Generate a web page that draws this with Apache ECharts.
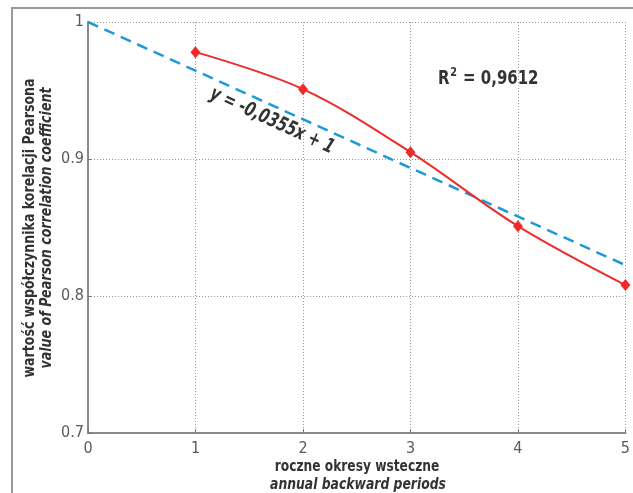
<!DOCTYPE html>
<html><head><meta charset="utf-8">
<script src="https://cdn.jsdelivr.net/npm/echarts@6/dist/echarts.min.js"></script>
<style>html,body{margin:0;padding:0;background:#fff}#c{width:633px;height:493px}</style>
</head><body><div id="c"></div>
<script>
const periods = [1, 2, 3, 4, 5];
const pearson = [0.978, 0.951, 0.905, 0.851, 0.808];
const trendX = [0, 5];
const trendY = [1, 0.8225];
const xTicks = ['0', '1', '2', '3', '4', '5'];
const yTicks = ['0.7', '0.8', '0.9', '1'];
const equationText = 'y = -0,0355x + 1';
const r2Text = '0,9612';

const FONT = '"DejaVu Sans Condensed", "Liberation Sans Narrow", "Roboto", sans-serif';
const chart = echarts.init(document.getElementById('c'), null, {renderer: 'canvas'});
chart.setOption({
  animation: false,
  backgroundColor: '#fff',
  grid: {left: 88, right: 6, top: 22, bottom: 60, containLabel: false},
  xAxis: {
    type: 'value', min: 0, max: 5, interval: 1,
    axisLine: {show: true, onZero: false, lineStyle: {color: '#8a8a8a', width: 2}},
    axisTick: {show: true, inside: true, length: 4, lineStyle: {color: '#777'}},
    axisLabel: {margin: 8, color: '#5a5a5a', fontSize: 16, fontFamily: FONT,
      formatter: v => xTicks[Math.round(v)]},
    splitLine: {show: true, lineStyle: {color: '#999', type: [1, 2], width: 1}}
  },
  yAxis: {
    type: 'value', min: 0.7, max: 1, interval: 0.1,
    axisLine: {show: true, onZero: false, lineStyle: {color: '#8a8a8a', width: 2}},
    axisTick: {show: true, inside: true, length: 4, lineStyle: {color: '#777'}},
    axisLabel: {margin: 4, color: '#5a5a5a', fontSize: 16, fontFamily: FONT,
      formatter: v => yTicks[Math.round((v - 0.7) * 10)]},
    splitLine: {show: true, lineStyle: {color: '#999', type: [1, 2], width: 1}}
  },
  series: [
    {
      type: 'line', data: trendX.map((x, i) => [x, trendY[i]]),
      symbol: 'none', z: 2,
      lineStyle: {color: '#1b9ad8', width: 2.5, type: [11, 7]}
    },
    {
      type: 'line', data: periods.map((x, i) => [x, pearson[i]]),
      smooth: 0.35, symbol: 'diamond', symbolSize: [10, 12], z: 3,
      lineStyle: {color: '#ee2b2b', width: 2},
      itemStyle: {color: '#ee2b2b'}
    }
  ],
  graphic: [
    {type: 'rect', shape: {x: 12, y: 8, width: 700, height: 600}, z: -10,
     style: {fill: null, stroke: '#9a9a9a', lineWidth: 2}},
    {type: 'text', x: 30, y: 228, rotation: Math.PI / 2, scaleX: 0.875,
     style: {text: 'wartość współczynnika korelacji Pearsona', fill: '#333', font: 'bold 16px ' + FONT,
       align: 'center', verticalAlign: 'middle'}},
    {type: 'text', x: 47, y: 228, rotation: Math.PI / 2, scaleX: 0.88,
     style: {text: 'value of Pearson correlation coefficient', fill: '#333', font: 'italic bold 16px ' + FONT,
       align: 'center', verticalAlign: 'middle'}},
    {type: 'text', x: 357, y: 467, scaleX: 0.85,
     style: {text: 'roczne okresy wsteczne', fill: '#333', font: 'bold 16px ' + FONT,
       align: 'center', verticalAlign: 'middle'}},
    {type: 'text', x: 358, y: 485, scaleX: 0.86,
     style: {text: 'annual backward periods', fill: '#333', font: 'italic bold 16px ' + FONT,
       align: 'center', verticalAlign: 'middle'}},
    {type: 'text', x: 438, y: 79, scaleX: 0.83,
     style: {text: '{r|R}{s|2}{r| = ' + r2Text + '}', fill: '#333', verticalAlign: 'middle',
       rich: {r: {font: 'bold 20px ' + FONT, fill: '#333'},
              s: {font: 'bold 13px ' + FONT, fill: '#333', verticalAlign: 'top', padding: [0, 1, 12, 1]}}}},
    {type: 'text', x: 272, y: 121, rotation: -0.43, scaleX: 0.8,
     style: {text: equationText, fill: '#333', font: 'italic bold 20px ' + FONT,
       align: 'center', verticalAlign: 'middle'}}
  ]
});
</script></body></html>
